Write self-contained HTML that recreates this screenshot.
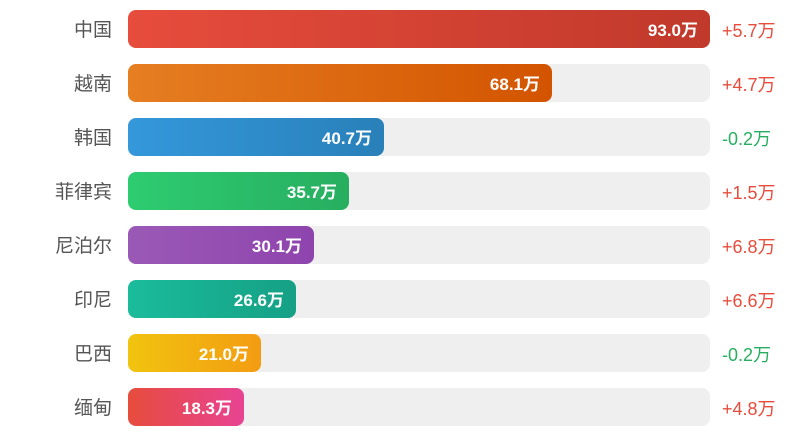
<!DOCTYPE html>
<html><head><meta charset="utf-8"><style>
html,body{margin:0;padding:0;background:#fff;width:807px;height:438px;overflow:hidden;font-family:"Liberation Sans","Noto Sans CJK SC",sans-serif}
.row{position:absolute;left:0;width:807px;height:38px}
.lab{position:absolute;right:695px;top:2px;line-height:38px;font-size:19px;color:#555;white-space:nowrap}
.track{position:absolute;left:128px;width:582px;top:0;height:38px;background:#efefef;border-radius:8px}
.bar{position:absolute;left:128px;top:0;height:38px;border-radius:8px;color:#fff;font-weight:bold;font-size:17px;line-height:42px;text-align:right;box-sizing:border-box;padding-right:12px}
.d{position:absolute;left:722px;top:2px;line-height:38px;font-size:18px}
.up{color:#e74c3c}.dn{color:#27ae60}
</style></head><body>
<div class="row" style="top:10px"><div class="lab">中国</div><div class="track"></div><div class="bar" style="width:582px;background:linear-gradient(90deg,#e74c3c,#c0392b)">93.0万</div><div class="d up">+5.7万</div></div>
<div class="row" style="top:64px"><div class="lab">越南</div><div class="track"></div><div class="bar" style="width:424px;background:linear-gradient(90deg,#e67e22,#d35400)">68.1万</div><div class="d up">+4.7万</div></div>
<div class="row" style="top:118px"><div class="lab">韩国</div><div class="track"></div><div class="bar" style="width:256px;background:linear-gradient(90deg,#3498db,#2980b9)">40.7万</div><div class="d dn">-0.2万</div></div>
<div class="row" style="top:172px"><div class="lab">菲律宾</div><div class="track"></div><div class="bar" style="width:221px;background:linear-gradient(90deg,#2ecc71,#27ae60)">35.7万</div><div class="d up">+1.5万</div></div>
<div class="row" style="top:226px"><div class="lab">尼泊尔</div><div class="track"></div><div class="bar" style="width:186px;background:linear-gradient(90deg,#9b59b6,#8e44ad)">30.1万</div><div class="d up">+6.8万</div></div>
<div class="row" style="top:280px"><div class="lab">印尼</div><div class="track"></div><div class="bar" style="width:168px;background:linear-gradient(90deg,#1abc9c,#16a085)">26.6万</div><div class="d up">+6.6万</div></div>
<div class="row" style="top:334px"><div class="lab">巴西</div><div class="track"></div><div class="bar" style="width:133px;background:linear-gradient(90deg,#f1c40f,#f39c12)">21.0万</div><div class="d dn">-0.2万</div></div>
<div class="row" style="top:388px"><div class="lab">缅甸</div><div class="track"></div><div class="bar" style="width:116px;background:linear-gradient(90deg,#e74c3c,#e84393)">18.3万</div><div class="d up">+4.8万</div></div>
</body></html>
